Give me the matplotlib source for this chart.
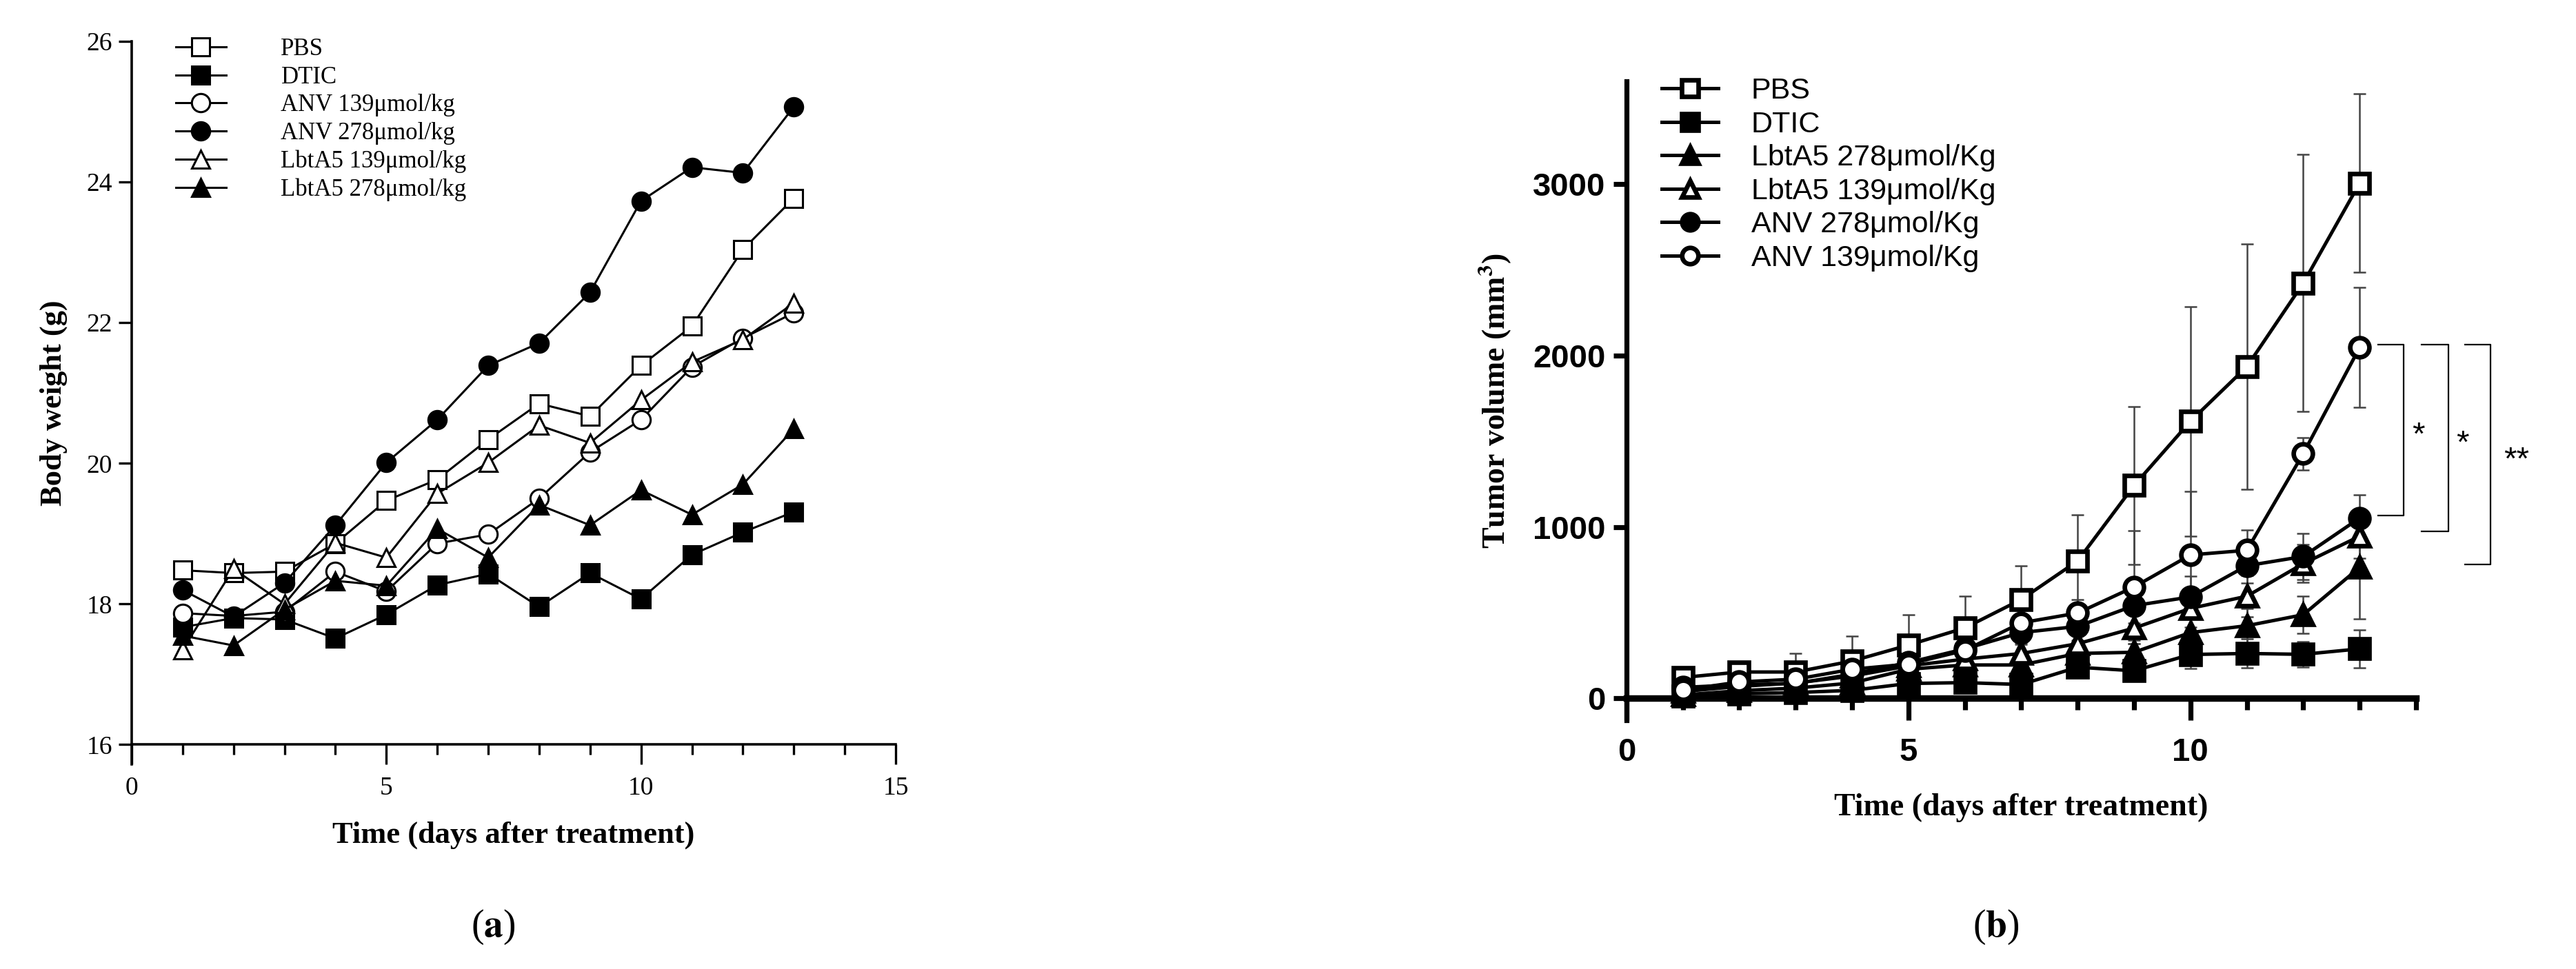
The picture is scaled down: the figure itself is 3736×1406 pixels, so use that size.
import numpy as np
import matplotlib.pyplot as plt
from matplotlib.ticker import MultipleLocator

plt.rcParams['mathtext.fontset'] = 'stix'

days = np.arange(1, 14)

# (a) body weight, g
bw_pbs = [18.48, 18.44, 18.46, 18.86, 19.47, 19.77, 20.34, 20.85, 20.67, 21.39, 21.95, 23.04, 23.77]
bw_dtic = [17.67, 17.80, 17.78, 17.51, 17.85, 18.27, 18.43, 17.96, 18.44, 18.07, 18.70, 19.02, 19.31]
bw_anv139 = [17.87, 17.83, 17.89, 18.46, 18.18, 18.86, 18.99, 19.50, 20.16, 20.62, 21.37, 21.78, 22.14]
bw_anv278 = [18.20, 17.82, 18.30, 19.12, 20.01, 20.62, 21.39, 21.71, 22.43, 23.73, 24.21, 24.13, 25.07]
bw_lbt139 = [17.35, 18.50, 18.00, 18.87, 18.66, 19.57, 20.01, 20.54, 20.29, 20.90, 21.44, 21.76, 22.28]
bw_lbt278 = [17.55, 17.41, 17.92, 18.33, 18.26, 19.07, 18.66, 19.41, 19.12, 19.62, 19.27, 19.70, 20.49]

# (b) tumor volume, mm3 (mean, error)
tv_pbs = [122, 154, 154, 218, 311, 411, 577, 802, 1242, 1617, 1935, 2422, 3006]
tv_pbs_err = [30, 60, 110, 145, 175, 185, 195, 270, 460, 670, 715, 750, 520]
tv_dtic = [15, 27, 34, 47, 87, 92, 81, 182, 161, 256, 262, 257, 289]
tv_dtic_err = [10, 15, 20, 25, 30, 35, 40, 40, 50, 80, 85, 75, 110]
tv_lbt278 = [20, 45, 60, 90, 170, 195, 195, 262, 269, 384, 424, 488, 764]
tv_lbt278_err = [10, 20, 25, 30, 40, 50, 50, 60, 70, 90, 100, 110, 300]
tv_lbt139 = [40, 70, 90, 130, 190, 229, 262, 319, 410, 525, 596, 786, 946]
tv_lbt139_err = [15, 25, 30, 40, 50, 55, 60, 70, 90, 110, 120, 110, 130]
tv_anv278 = [64, 80, 87, 141, 209, 289, 384, 420, 541, 592, 774, 828, 1052]
tv_anv278_err = [15, 25, 30, 40, 50, 60, 70, 80, 100, 120, 100, 134, 135]
tv_anv139 = [48, 96, 112, 170, 200, 280, 441, 498, 650, 837, 864, 1428, 2047]
tv_anv139_err = [15, 25, 30, 40, 50, 60, 70, 80, 330, 370, 120, 95, 350]

fig = plt.figure(figsize=(18.68, 7.03), dpi=200)

# ---------------- panel (a)
serif = 'Liberation Serif'
ax1 = fig.add_axes([0.0511, 0.2112, 0.2966, 0.7461])
series_a = [
    ('PBS', bw_pbs, 's', 'white'),
    ('DTIC', bw_dtic, 's', 'black'),
    ('ANV 139μmol/kg', bw_anv139, 'o', 'white'),
    ('ANV 278μmol/kg', bw_anv278, 'o', 'black'),
    ('LbtA5 139μmol/kg', bw_lbt139, '^', 'white'),
    ('LbtA5 278μmol/kg', bw_lbt278, '^', 'black'),
]
for name, vals, mk, fc in series_a:
    ax1.plot(days, vals, color='black', lw=1.1, marker=mk, ms=9.5,
             mfc=fc, mec='black', mew=1.1, label=name, clip_on=False)

ax1.set_xlim(0, 15)
ax1.set_ylim(15.72, 26)
ax1.spines['top'].set_visible(False)
ax1.spines['right'].set_visible(False)
ax1.spines['bottom'].set_position(('data', 16))
for s in ('left', 'bottom'):
    ax1.spines[s].set_linewidth(1.3)
ax1.set_yticks([16, 18, 20, 22, 24, 26])
ax1.xaxis.set_major_locator(MultipleLocator(5))
ax1.xaxis.set_minor_locator(MultipleLocator(1))
ax1.tick_params(axis='y', length=7, width=1.2, pad=3, labelsize=13.5)
ax1.tick_params(axis='x', which='major', length=10.5, width=1.2, pad=6, labelsize=13.5)
ax1.tick_params(axis='x', which='minor', length=5.5, width=1.2)
for lab in ax1.get_xticklabels() + ax1.get_yticklabels():
    lab.set_fontfamily(serif)
ax1.set_xlabel('Time (days after treatment)', fontfamily=serif, fontweight='bold',
               fontsize=16, labelpad=11)
ax1.set_ylabel('Body weight (g)', fontfamily=serif, fontweight='bold', fontsize=16, labelpad=10)
ax1.legend(loc='upper left', bbox_to_anchor=(0.045, 1.018), frameon=False,
           prop={'family': serif, 'size': 12.5}, handlelength=2.1,
           handletextpad=2.3, labelspacing=0.22, borderaxespad=0)

# ---------------- panel (b)
sans = 'Liberation Sans'
ax2 = fig.add_axes([0.6314, 0.2568, 0.3065, 0.6593])
series_b = [
    ('PBS', tv_pbs, tv_pbs_err, 's', 'white'),
    ('DTIC', tv_dtic, tv_dtic_err, 's', 'black'),
    ('LbtA5 278μmol/Kg', tv_lbt278, tv_lbt278_err, '^', 'black'),
    ('LbtA5 139μmol/Kg', tv_lbt139, tv_lbt139_err, '^', 'white'),
    ('ANV 278μmol/Kg', tv_anv278, tv_anv278_err, 'o', 'black'),
    ('ANV 139μmol/Kg', tv_anv139, tv_anv139_err, 'o', 'white'),
]
for name, vals, err, mk, fc in series_b:
    ax2.errorbar(days, vals, yerr=err, fmt='none', ecolor='#444444', elinewidth=0.9,
                 capsize=3.4, capthick=0.9, zorder=2, clip_on=False)
for name, vals, err, mk, fc in series_b:
    ax2.plot(days, vals, color='black', lw=1.8, marker=mk, ms=10,
             mfc=fc, mec='black', mew=2.4, label=name, zorder=3, clip_on=False)

ax2.set_xlim(0, 14)
ax2.set_ylim(-127, 3600)
ax2.spines['top'].set_visible(False)
ax2.spines['right'].set_visible(False)
ax2.spines['bottom'].set_position(('data', 0))
ax2.spines['left'].set_linewidth(2.6)
ax2.spines['bottom'].set_linewidth(3.4)
ax2.set_yticks([0, 1000, 2000, 3000])
ax2.xaxis.set_major_locator(MultipleLocator(5))
ax2.xaxis.set_minor_locator(MultipleLocator(1))
ax2.tick_params(axis='y', length=7, width=2.6, pad=4, labelsize=17)
ax2.tick_params(axis='x', which='major', length=11.5, width=2.6, pad=9, labelsize=17)
ax2.tick_params(axis='x', which='minor', length=6, width=2.6)
for lab in ax2.get_xticklabels() + ax2.get_yticklabels():
    lab.set_fontfamily(sans)
    lab.set_fontweight('bold')
ax2.set_xlabel('Time (days after treatment)', fontfamily=serif, fontweight='bold',
               fontsize=16.5, labelpad=13)
ax2.set_ylabel(r'Tumor volume (mm$\mathbf{^3}$)', fontfamily=serif, fontweight='bold',
               fontsize=16.5, labelpad=10)
ax2.legend(loc='upper left', bbox_to_anchor=(0.03, 1.025), frameon=False,
           prop={'family': sans, 'size': 15.5}, handlelength=1.9,
           handletextpad=1.1, labelspacing=0.2, borderaxespad=0, markerscale=0.85)

# significance brackets
brackets = [(13.33, 13.78, 2063, 1065, 14.04, '*'),
            (14.10, 14.57, 2063, 973, 14.83, '*'),
            (14.87, 15.32, 2063, 780, 15.78, '**')]
for x0, x1, ytop, ybot, xs, txt in brackets:
    ax2.plot([x0, x1, x1, x0], [ytop, ytop, ybot, ybot], color='black', lw=0.8,
             clip_on=False, zorder=4)
    ax2.text(xs, (ytop + ybot) / 2 - 35, txt, ha='center', va='center',
             fontfamily=sans, fontsize=17)

# panel letters
fig.text(0.1914, 0.043, r'($\mathbf{a}$)', ha='center', va='center', fontfamily=serif, fontsize=20)
fig.text(0.7749, 0.043, r'($\mathbf{b}$)', ha='center', va='center', fontfamily=serif, fontsize=20)

fig.savefig('out.png', dpi=200)
